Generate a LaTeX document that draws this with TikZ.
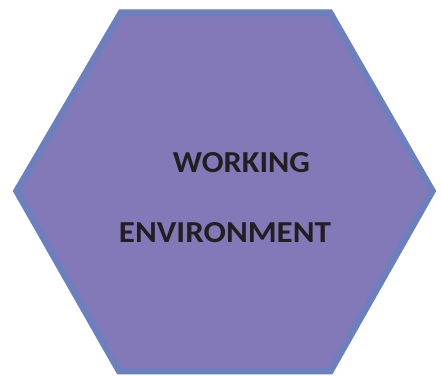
\documentclass[tikz,border=0pt]{standalone}
\usepackage{fontspec}
\setmainfont{Carlito}
\usepackage{graphicx}
\definecolor{hexfill}{HTML}{8479B8}
\definecolor{hexline}{HTML}{6C80BF}
\definecolor{txt}{HTML}{231F20}
\begin{document}
\begin{tikzpicture}[x=1pt,y=-1pt,
  lbl/.style={text=txt,font=\bfseries,inner sep=0pt,anchor=center}]
\useasboundingbox (0,0) rectangle (441,375);
\draw[hexline,line width=6.5pt,line join=miter,fill=hexfill]
  (121,12.5) coordinate (tl) -- (330,12.5) coordinate (tr) -- (432.5,191) coordinate (r)
  -- (330.5,371) coordinate (br) -- (119,371) coordinate (bl) -- (16.5,191) coordinate (l) -- cycle;
\node[lbl] (w) at (241.5,163) {\resizebox{137pt}{20pt}{WORKING}};
\node[lbl] (e) at (225,232.5) {\resizebox{212pt}{20pt}{ENVIRONMENT}};
\end{tikzpicture}
\end{document}
